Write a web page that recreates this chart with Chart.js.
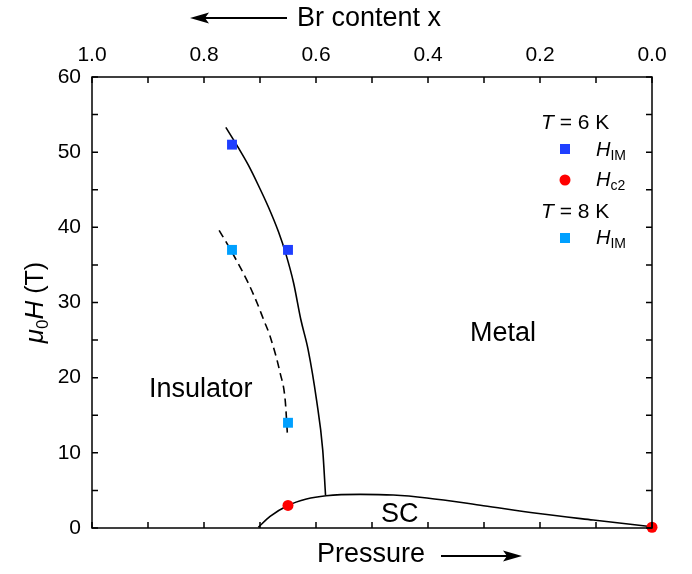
<!DOCTYPE html>
<html>
<head>
<meta charset="utf-8">
<script src="https://cdn.jsdelivr.net/npm/chart.js@4.4.1/dist/chart.umd.min.js"></script>
<style>
  body { margin: 0; background: #fff; }
  #wrap { width: 692px; height: 574px; }
</style>
</head>
<body>
<div id="wrap"><canvas id="chart" width="692" height="574"></canvas></div>
<script>
const FONT = "'Liberation Sans', Arial, sans-serif";

// markers: [Br content x, mu0H in T]
const him6K = [[0.75, 51], [0.65, 37]];
const hc2 = [[0.65, 3.0], [0.0, 0.1]];
const him8K = [[0.75, 37], [0.65, 14]];

// phase boundaries
const boundarySolid = [[0.761, 53.3], [0.742, 51.0], [0.721, 48.3], [0.703, 45.6], [0.685, 42.7],
  [0.667, 39.4], [0.654, 36.5], [0.640, 32.6], [0.627, 27.7], [0.614, 23.7], [0.599, 17.0],
  [0.588, 10.4], [0.583, 4.4]];
const boundaryDashed = [[0.773, 39.6], [0.757, 37.6], [0.742, 35.6], [0.721, 32.6], [0.705, 29.9],
  [0.694, 27.8], [0.682, 25.5], [0.664, 20.6], [0.655, 17.0], [0.651, 12.4]];
const scDome = [[0.703, 0.1], [0.682, 1.55], [0.651, 2.97], [0.617, 3.86], [0.582, 4.3],
  [0.521, 4.48], [0.462, 4.39], [0.402, 4.0], [0.301, 2.97], [0.206, 1.96], [0.105, 1.06],
  [0.0, 0.17]];

const xTicks = { min: 0, max: 1, step: 0.1 };
const yTicks = { min: 0, max: 60, step: 5 };

const toXY = arr => arr.map(([x, y]) => ({ x, y }));

const lineSet = (data, dash) => ({
  data: toXY(data),
  showLine: true,
  borderColor: '#000',
  borderWidth: 1.6,
  borderDash: dash,
  pointRadius: 0,
  cubicInterpolationMode: 'monotone',
  fill: false
});

// ticks pointing inward, frame, and all the annotation text
const decorations = {
  id: 'decorations',
  afterDraw(chart) {
    const { ctx, chartArea: a, scales } = chart;
    const len = 6;
    ctx.save();
    ctx.strokeStyle = '#000';
    ctx.lineWidth = 1.5;
    ctx.strokeRect(a.left, a.top, a.right - a.left, a.bottom - a.top);
    ctx.beginPath();
    scales.x.ticks.forEach(t => {
      const p = scales.x.getPixelForValue(t.value);
      ctx.moveTo(p, a.bottom); ctx.lineTo(p, a.bottom - len);
    });
    scales.x2.ticks.forEach(t => {
      const p = scales.x2.getPixelForValue(t.value);
      ctx.moveTo(p, a.top); ctx.lineTo(p, a.top + len);
    });
    scales.y.ticks.forEach(t => {
      const p = scales.y.getPixelForValue(t.value);
      ctx.moveTo(a.left, p); ctx.lineTo(a.left + len, p);
    });
    scales.y2.ticks.forEach(t => {
      const p = scales.y2.getPixelForValue(t.value);
      ctx.moveTo(a.right, p); ctx.lineTo(a.right - len, p);
    });
    ctx.stroke();

    ctx.fillStyle = '#000';
    ctx.textBaseline = 'middle';
    ctx.textAlign = 'left';

    // arrows
    const arrow = (x1, x2, y) => {
      const dir = Math.sign(x2 - x1);
      ctx.beginPath();
      ctx.lineWidth = 2.2;
      ctx.moveTo(x1, y); ctx.lineTo(x2 - dir * 12, y);
      ctx.stroke();
      ctx.beginPath();
      ctx.moveTo(x2, y);
      ctx.lineTo(x2 - dir * 19, y - 5.5);
      ctx.lineTo(x2 - dir * 15, y);
      ctx.lineTo(x2 - dir * 19, y + 5.5);
      ctx.closePath();
      ctx.fill();
    };
    arrow(287, 190, 18);
    arrow(441, 522, 556);

    ctx.font = '27px ' + FONT;
    ctx.fillText('Br content x', 297, 19);
    ctx.fillText('Pressure', 317, 555);
    ctx.fillText('Insulator', 149, 390);
    ctx.fillText('Metal', 470, 334);
    ctx.fillText('SC', 381, 515);

    // mixed italic / subscript runs
    const runs = (parts, x, y) => {
      parts.forEach(([txt, font, dy]) => {
        ctx.font = font;
        ctx.fillText(txt, x, y + dy);
        x += ctx.measureText(txt).width;
      });
    };
    const width = parts => parts.reduce((s, [txt, font]) => {
      ctx.font = font; return s + ctx.measureText(txt).width;
    }, 0);

    const yTitle = [
      ['\u03bc', 'italic 26px ' + FONT, 0],
      ['0', '17px ' + FONT, 7],
      ['H', 'italic 26px ' + FONT, 0],
      [' (T)', '25px ' + FONT, 0]
    ];
    ctx.save();
    ctx.translate(36, (a.top + a.bottom) / 2);
    ctx.rotate(-Math.PI / 2);
    runs(yTitle, -width(yTitle) / 2, 0);
    ctx.restore();

    // legend
    const lf = '21px ' + FONT, li = 'italic 21px ' + FONT;
    const hi = 'italic 20px ' + FONT, ls = '14px ' + FONT;
    runs([['T', li, 0], [' = 6 K', lf, 0]], 541, 123);
    runs([['H', hi, 0], ['IM', ls, 6]], 596, 150);
    runs([['H', hi, 0], ['c2', ls, 6]], 596, 180);
    runs([['T', li, 0], [' = 8 K', lf, 0]], 541, 212);
    runs([['H', hi, 0], ['IM', ls, 6]], 596, 238);
    ctx.fillStyle = '#1f3fff';
    ctx.fillRect(560, 144, 10, 10);
    ctx.fillStyle = '#00a0ff';
    ctx.fillRect(560, 233, 10, 10);
    ctx.fillStyle = '#ff0000';
    ctx.beginPath();
    ctx.arc(565, 180, 5.5, 0, Math.PI * 2);
    ctx.fill();
    ctx.restore();
  }
};

const xScale = (position, showLabels, boxHeight) => ({
  type: 'linear',
  position,
  reverse: true,
  min: xTicks.min,
  max: xTicks.max,
  grid: { display: false, drawTicks: false },
  border: { display: false },
  ticks: {
    display: showLabels,
    stepSize: xTicks.step,
    autoSkip: false,
    maxRotation: 0,
    padding: 9,
    color: '#000',
    font: { family: FONT, size: 21 },
    callback: v => Math.round(v * 10) % 2 === 0 ? v.toFixed(1) : ''
  },
  afterFit: s => { s.height = boxHeight; }
});

const yScale = (position, showLabels, boxWidth) => ({
  type: 'linear',
  position,
  min: yTicks.min,
  max: yTicks.max,
  grid: { display: false, drawTicks: false },
  border: { display: false },
  ticks: {
    display: showLabels,
    stepSize: yTicks.step,
    autoSkip: false,
    padding: 11,
    color: '#000',
    font: { family: FONT, size: 21 },
    callback: v => v % 10 === 0 ? String(v) : ''
  },
  afterFit: s => { s.width = boxWidth; }
});

new Chart(document.getElementById('chart'), {
  type: 'scatter',
  data: {
    datasets: [
      { data: toXY(him6K), pointStyle: 'rect', pointRadius: 7, pointBorderWidth: 0,
        backgroundColor: '#1f3fff', borderColor: '#1f3fff' },
      { data: toXY(hc2), pointStyle: 'circle', pointRadius: 5.5, pointBorderWidth: 0,
        backgroundColor: '#ff0000', borderColor: '#ff0000', clip: false },
      { data: toXY(him8K), pointStyle: 'rect', pointRadius: 7, pointBorderWidth: 0,
        backgroundColor: '#00a0ff', borderColor: '#00a0ff' },
      lineSet(boundarySolid, []),
      lineSet(boundaryDashed, [8, 5]),
      lineSet(scDome, [])
    ]
  },
  options: {
    responsive: false,
    animation: false,
    layout: { padding: 0 },
    plugins: { legend: { display: false }, tooltip: { enabled: false } },
    scales: {
      x: xScale('bottom', false, 46),
      x2: xScale('top', true, 77),
      y: yScale('left', true, 92),
      y2: yScale('right', false, 40)
    }
  },
  plugins: [decorations]
});
</script>
</body>
</html>
